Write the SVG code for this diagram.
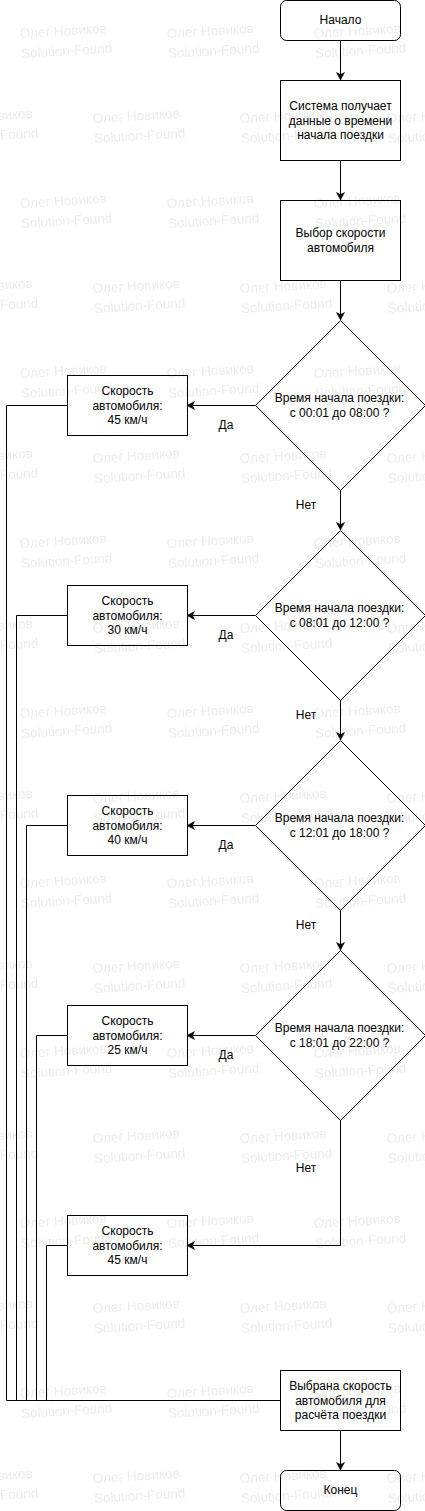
<svg xmlns="http://www.w3.org/2000/svg" width="425" height="1511" viewBox="0 0 425 1511">
<style>
  .n rect, .n polygon { fill: #ffffff; stroke: #000000; stroke-width: 1; }
  .t { font-family: "Liberation Sans", Arial, sans-serif; font-size: 12px; fill: #000000; text-anchor: middle; }
  .e path { fill: none; stroke: #000000; stroke-width: 1; }
  .wm { font-family: "Liberation Sans", Arial, sans-serif; font-size: 13.5px; fill: #000000; fill-opacity: 0.08; }
</style>
<defs>
  <marker id="arr" markerUnits="userSpaceOnUse" viewBox="-8 -5 10 10" refX="0" refY="0" markerWidth="10" markerHeight="10" orient="auto">
    <path d="M0,0 L-7.5,-4 L-5.5,0 L-7.5,4 Z" fill="#000000" stroke="#000000" stroke-width="0.5"/>
  </marker>
  <pattern id="wm" patternUnits="userSpaceOnUse" x="0" y="0" width="147" height="170">
    <g transform="translate(20,38) rotate(-3.4)"><text class="wm" x="0" y="0">Олег Новиков</text><text class="wm" x="0" y="20">Solution-Found</text></g>
    <g transform="translate(93,123) rotate(-3.4)"><text class="wm" x="0" y="0">Олег Новиков</text><text class="wm" x="0" y="20">Solution-Found</text></g>
    <g transform="translate(-54,123) rotate(-3.4)"><text class="wm" x="0" y="0">Олег Новиков</text><text class="wm" x="0" y="20">Solution-Found</text></g>
  </pattern>
</defs>
<rect x="0" y="0" width="425" height="1511" fill="#ffffff"/>

<g id="edges" class="e">
  <path d="M340.5,40 L340.5,80" marker-end="url(#arr)"/>
  <path d="M340.5,160 L340.5,200" marker-end="url(#arr)"/>
  <path d="M340.5,280 L340.5,320" marker-end="url(#arr)"/>
  <path d="M255,405.5 L187,405.5" marker-end="url(#arr)"/>
  <path d="M340.5,490 L340.5,530" marker-end="url(#arr)"/>
  <path d="M255,615.5 L187,615.5" marker-end="url(#arr)"/>
  <path d="M340.5,700 L340.5,740" marker-end="url(#arr)"/>
  <path d="M255,825.5 L187,825.5" marker-end="url(#arr)"/>
  <path d="M340.5,910 L340.5,950" marker-end="url(#arr)"/>
  <path d="M255,1035.5 L187,1035.5" marker-end="url(#arr)"/>
  <path d="M340.5,1120 L340.5,1245.5 L187,1245.5" marker-end="url(#arr)"/>
  <path d="M67,405.5 L6.5,405.5 L6.5,1400.5 L280,1400.5"/>
  <path d="M67,615.5 L16.5,615.5 L16.5,1400.5"/>
  <path d="M67,825.5 L26.5,825.5 L26.5,1400.5"/>
  <path d="M67,1035.5 L36.5,1035.5 L36.5,1400.5"/>
  <path d="M67,1245.5 L46.5,1245.5 L46.5,1400.5"/>
  <path d="M340.5,1430 L340.5,1470" marker-end="url(#arr)"/>
  <text class="t" x="226" y="429">Да</text>
  <text class="t" x="306" y="508.5">Нет</text>
  <text class="t" x="226" y="639">Да</text>
  <text class="t" x="306" y="718.5">Нет</text>
  <text class="t" x="226" y="849">Да</text>
  <text class="t" x="306" y="928.5">Нет</text>
  <text class="t" x="226" y="1059">Да</text>
  <text class="t" x="306" y="1171.5">Нет</text>
</g>

<g id="start" class="n">
  <rect x="280.5" y="0.5" width="120" height="40" rx="6" ry="6"/>
  <text class="t" x="340.5" y="24">Начало</text>
</g>
<g id="receive" class="n">
  <rect x="280.5" y="80.5" width="120" height="80"/>
  <text class="t" x="340.5" y="110">Система получает</text>
  <text class="t" x="340.5" y="124.5">данные о времени</text>
  <text class="t" x="340.5" y="139">начала поездки</text>
</g>
<g id="choose" class="n">
  <rect x="280.5" y="200.5" width="120" height="80"/>
  <text class="t" x="340.5" y="237">Выбор скорости</text>
  <text class="t" x="340.5" y="251.5">автомобиля</text>
</g>

<g id="d1" class="n">
  <polygon points="340.5,320.5 425.5,405.5 340.5,490.5 255.5,405.5"/>
  <text class="t" x="339.5" y="402">Время начала поездки:</text>
  <text class="t" x="339.5" y="416.5">с 00:01 до 08:00 ?</text>
</g>
<g id="s1" class="n">
  <rect x="67.5" y="375.5" width="120" height="60"/>
  <text class="t" x="127.5" y="395">Скорость</text>
  <text class="t" x="127.5" y="409.5">автомобиля:</text>
  <text class="t" x="127.5" y="424">45 км/ч</text>
</g>

<g id="d2" class="n">
  <polygon points="340.5,530.5 425.5,615.5 340.5,700.5 255.5,615.5"/>
  <text class="t" x="339.5" y="612">Время начала поездки:</text>
  <text class="t" x="339.5" y="626.5">с 08:01 до 12:00 ?</text>
</g>
<g id="s2" class="n">
  <rect x="67.5" y="585.5" width="120" height="60"/>
  <text class="t" x="127.5" y="605">Скорость</text>
  <text class="t" x="127.5" y="619.5">автомобиля:</text>
  <text class="t" x="127.5" y="634">30 км/ч</text>
</g>

<g id="d3" class="n">
  <polygon points="340.5,740.5 425.5,825.5 340.5,910.5 255.5,825.5"/>
  <text class="t" x="339.5" y="822">Время начала поездки:</text>
  <text class="t" x="339.5" y="836.5">с 12:01 до 18:00 ?</text>
</g>
<g id="s3" class="n">
  <rect x="67.5" y="795.5" width="120" height="60"/>
  <text class="t" x="127.5" y="815">Скорость</text>
  <text class="t" x="127.5" y="829.5">автомобиля:</text>
  <text class="t" x="127.5" y="844">40 км/ч</text>
</g>

<g id="d4" class="n">
  <polygon points="340.5,950.5 425.5,1035.5 340.5,1120.5 255.5,1035.5"/>
  <text class="t" x="339.5" y="1032">Время начала поездки:</text>
  <text class="t" x="339.5" y="1046.5">с 18:01 до 22:00 ?</text>
</g>
<g id="s4" class="n">
  <rect x="67.5" y="1005.5" width="120" height="60"/>
  <text class="t" x="127.5" y="1025">Скорость</text>
  <text class="t" x="127.5" y="1039.5">автомобиля:</text>
  <text class="t" x="127.5" y="1054">25 км/ч</text>
</g>

<g id="s5" class="n">
  <rect x="67.5" y="1215.5" width="120" height="60"/>
  <text class="t" x="127.5" y="1235">Скорость</text>
  <text class="t" x="127.5" y="1249.5">автомобиля:</text>
  <text class="t" x="127.5" y="1264">45 км/ч</text>
</g>

<g id="result" class="n">
  <rect x="280.5" y="1370.5" width="120" height="60"/>
  <text class="t" x="340.5" y="1390">Выбрана скорость</text>
  <text class="t" x="340.5" y="1404.5">автомобиля для</text>
  <text class="t" x="340.5" y="1419">расчёта поездки</text>
</g>
<g id="end" class="n">
  <rect x="280.5" y="1470.5" width="120" height="40" rx="6" ry="6"/>
  <text class="t" x="340.5" y="1494">Конец</text>
</g>

<rect id="watermark" x="0" y="0" width="425" height="1511" fill="url(#wm)" pointer-events="none"/>
</svg>
